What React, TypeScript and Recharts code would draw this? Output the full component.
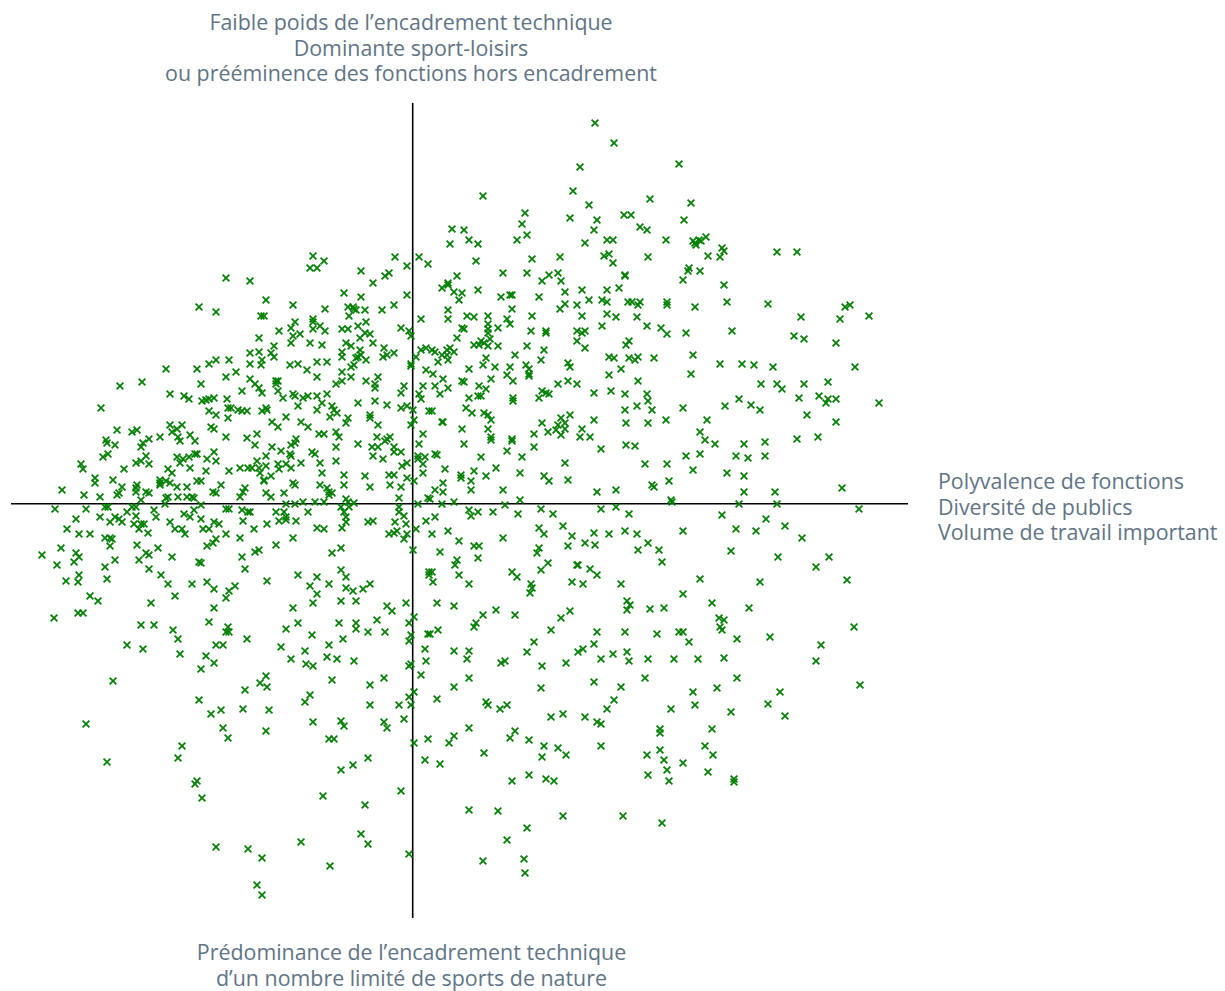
import React from "react";
import { ScatterChart, Scatter, XAxis, YAxis, ReferenceLine } from "recharts";

type P = [number, number];

const topLabel = [
  "Faible poids de l’encadrement technique",
  "Dominante sport-loisirs",
  "ou prééminence des fonctions hors encadrement",
];
const rightLabel = [
  "Polyvalence de fonctions",
  "Diversité de publics",
  "Volume de travail important",
];
const bottomLabel = [
  "Prédominance de l’encadrement technique",
  "d’un nombre limité de sports de nature",
];

const farLeftUpper: P[] = [
  [-186,226],[-213,197],[-196,192],[-246,135],[-215,135],[-203,140],[-196,144],[-183,144],[-186,127],[-211,120],
  [-292,118],[-270,122],[-242,110],[-228,108],[-223,105],[-210,103],[-206,104],[-203,105],[-198,106],[-185,105],
  [-184,96],[-203,93],[-196,89],[-184,86],[-311,96],[-295,74],[-280,72],[-275,74],[-263,65],[-252,67],
  [-242,79],[-230,79],[-235,75],[-240,72],[-234,67],[-222,69],[-201,77],[-198,75],[-186,67],[-306,64],
  [-305,61],[-297,59],[-271,57],[-269,61],[-232,63],[-217,63],[-266,48],[-304,50],[-309,47],[-331,40],
  [-329,35],[-276,41],[-271,43],[-263,40],[-235,47],[-232,41],[-229,45],[-223,47],[-217,50],[-215,50],
  [-198,52],[-205,45],[-196,43],[-222,36],[-206,33],[-183,33],[-288,35],[-244,35],[-240,31],[-317,26],
  [-317,21],[-299,24],[-290,17],[-275,19],[-252,24],[-252,21],[-252,19],[-246,23],[-242,21],[-235,17],
  [-225,17],[-215,23],[-211,23],[-191,19],[-350,14],[-328,9],[-312,7],[-295,9],[-293,11],[-276,16],
  [-276,12],[-266,12],[-263,11],[-244,7],[-246,6],[-234,7],[-225,7],[-220,7],[-218,6],[-199,12],
  [-196,11],[-271,4],[-247,0],
];

const farLeftLower: P[] = [
  [-211,-1],[-357,-5],[-326,-5],[-307,-3],[-304,-3],[-280,-3],[-276,-3],[-186,-5],[-183,-5],[-258,-6],
  [-218,-6],[-285,-8],[-228,-10],[-276,-12],[-256,-13],[-312,-13],[-336,-15],[-297,-13],[-293,-15],[-222,-13],
  [-211,-15],[-302,-18],[-290,-18],[-242,-18],[-198,-18],[-193,-20],[-278,-20],[-271,-20],[-268,-20],[-273,-25],
  [-345,-25],[-237,-25],[-230,-25],[-209,-25],[-203,-25],[-264,-29],[-227,-30],[-333,-30],[-322,-30],[-186,-30],
  [-307,-34],[-302,-34],[-300,-35],[-196,-35],[-199,-39],[-205,-42],[-302,-42],[-275,-41],[-351,-44],[-254,-44],
  [-370,-51],[-336,-49],[-333,-53],[-266,-49],[-263,-51],[-240,-53],[-338,-58],[-297,-56],[-273,-56],[-355,-61],
  [-307,-63],[-213,-58],[-211,-59],[-263,-65],[-251,-71],[-333,-71],[-346,-77],[-334,-78],[-305,-75],[-244,-80],
  [-220,-80],[-205,-78],[-198,-85],[-183,-87],[-186,-94],[-322,-92],[-314,-97],[-237,-92],[-261,-99],[-198,-104],
  [-334,-109],[-329,-109],[-358,-114],[-203,-118],[-271,-121],[-258,-121],[-239,-126],[-184,-123],[-186,-128],[-183,-128],
  [-234,-135],
];

const nearAxisUpper: P[] = [
  [-99,248],[-88,243],[-102,236],[-95,236],[-17,247],[7,247],[-5,238],[16,240],[-51,233],[-23,231],
  [-27,228],[-39,221],[-162,223],[-5,209],[-68,211],[-51,207],[-146,204],[-119,199],[-18,199],[-87,195],
  [-64,197],[-59,197],[-58,195],[-56,194],[-47,194],[-30,194],[-151,188],[-148,188],[-63,188],[9,185],
  [-99,185],[-99,182],[-117,182],[-46,182],[-92,178],[-121,176],[-99,175],[-87,173],[-133,173],[-70,175],
  [-64,175],[-54,178],[-11,176],[-3,173],[-1,168],[-47,171],[-42,170],[-112,170],[-119,168],[-153,166],
  [-52,166],[-121,161],[-102,161],[-90,159],[-66,161],[-61,158],[-39,161],[-138,158],[-28,156],[-153,152],
  [-162,151],[-141,151],[-138,147],[-70,152],[-70,147],[-52,154],[-51,149],[-54,147],[-56,146],[-25,149],
  [-29,147],[-18,151],[9,154],[14,156],[4,147],[-150,144],[-162,140],[-151,139],[-122,139],[-114,140],
  [-95,142],[-85,142],[-46,144],[-1,140],[-1,138],[-58,139],[-61,137],[-105,134],[-70,132],[14,134],
  [-176,132],[-95,127],[-61,127],[-34,127],[-162,125],[-136,123],[-134,123],[-70,123],[-46,123],[-157,120],
  [-136,120],[-76,120],[-37,120],[-37,116],[-153,116],[-8,118],[11,118],[-170,113],[-134,113],[-150,111],
  [-11,111],[7,110],[-85,110],[-119,110],[-117,108],[-104,108],[-109,106],[-95,108],[-129,106],[9,105],
  [-90,101],[-54,101],[-37,103],[-25,99],[-114,98],[-80,98],[-11,96],[-5,98],[1,94],[17,93],
  [-174,94],[-170,93],[-165,93],[-181,96],[-150,93],[-146,96],[-145,94],[-95,94],[-78,94],[-75,91],
  [-82,87],[-126,87],[-42,89],[-42,86],[-64,86],[-140,82],[-111,82],[-66,81],[2,84],[-34,79],
  [-1,79],[-134,77],[-104,77],[-155,70],[-93,70],[-88,70],[-76,72],[-73,67],[11,70],[-35,67],
  [-22,67],[-25,65],[-165,66],[-116,65],[-157,59],[-140,57],[-121,59],[-117,61],[-76,57],[-54,60],
  [-40,57],[-34,57],[-27,63],[-18,57],[-18,52],[-11,52],[7,60],[-131,53],[-146,48],[-122,50],
  [-121,48],[-100,52],[-97,50],[-39,48],[-29,45],[6,48],[13,47],[6,45],[-155,43],[-111,41],
  [-92,41],[-76,43],[-5,41],[-10,38],[11,40],[-134,40],[-126,40],[-146,38],[-172,36],[-164,36],
  [-160,36],[-153,36],[-133,35],[-121,36],[-152,31],[-90,31],[-68,29],[-47,28],[-23,29],[-18,29],
  [11,31],[-141,28],[-5,26],[-148,23],[-148,24],[2,23],[-119,21],[-117,19],[-92,19],[-68,19],
  [-22,19],[-42,17],[-11,17],[-167,16],[-85,16],[-169,12],[-83,12],[-146,11],[-128,11],[-80,11],
  [-172,7],[-141,7],[-83,9],[16,6],[-13,6],[-88,2],[-66,5],[-126,0],[-117,0],[-109,2],
  [-97,2],[-64,2],[-58,1],[6,0],
];

const nearAxisLower: P[] = [
  [-71,-3],[-63,-3],[-13,-3],[-170,-6],[-164,-8],[-162,-8],[-136,-8],[-128,-8],[-104,-8],[-68,-8],
  [-13,-8],[-8,-12],[-126,-13],[-66,-13],[-169,-17],[-133,-17],[-126,-16],[-116,-17],[-66,-18],[-44,-18],
  [-39,-17],[-17,-18],[14,-17],[-145,-20],[-6,-20],[-95,-24],[-88,-25],[-70,-24],[-158,-25],[4,-25],
  [-15,-27],[-23,-30],[-18,-29],[-5,-30],[-172,-34],[-119,-34],[-8,-35],[-136,-41],[-71,-44],[-153,-46],
  [-157,-48],[1,-46],[-80,-49],[-170,-53],[-167,-65],[-71,-66],[-114,-71],[-95,-73],[-66,-73],[17,-68],
  [17,-71],[-145,-77],[-177,-82],[-102,-82],[-83,-80],[-42,-80],[-49,-85],[-66,-84],[-59,-87],[-95,-90],
  [-99,-99],[-71,-97],[-56,-97],[-6,-99],[-119,-104],[-25,-102],[-20,-107],[2,-113],[-35,-116],[-114,-119],
  [-73,-119],[-56,-119],[-56,-125],[-3,-119],[-126,-125],[-27,-128],[-44,-128],[-100,-131],[-1,-131],[16,-130],
  [-69,-135],[-165,-135],
];

const bottomLeft: P[] = [
  [-285,-141],[-269,-145],[-232,-150],[-206,-152],[-196,-141],[-189,-141],[-198,-159],[-211,-165],[-131,-143],[-107,-147],
  [-83,-141],[-3,-137],[13,-145],[-121,-155],[-85,-153],[-75,-155],[-58,-157],[-106,-160],[-99,-162],[-3,-162],
  [-1,-160],[14,-157],[9,-171],[-299,-177],[-146,-172],[-152,-179],[-145,-183],[-80,-176],[-42,-181],[-28,-174],
  [-167,-186],[-102,-191],[-107,-198],[2,-188],[-3,-193],[-213,-196],[-42,-201],[-13,-201],[-1,-201],[-169,-205],
  [-191,-206],[-201,-210],[-143,-206],[-71,-217],[-99,-218],[-28,-218],[-8,-215],[-326,-220],[-68,-222],[-25,-224],
  [-189,-224],[-146,-227],[-184,-234],[-83,-235],[-78,-235],[2,-239],[16,-235],[-230,-242],[-234,-254],[-305,-258],
  [-44,-254],[13,-256],[-59,-261],[-71,-266],[-215,-277],[-217,-280],[-11,-287],[-210,-294],[-89,-292],[-47,-301],
  [-51,-330],[-111,-338],[-44,-340],[-196,-343],[-164,-345],[-150,-354],[-3,-350],[-82,-362],[-155,-381],[-150,-391],
];

const topRight: P[] = [
  [183,381],[202,361],[168,337],[267,340],[161,313],[71,308],[177,299],[238,305],[279,301],[113,291],
  [158,286],[185,284],[212,289],[219,289],[272,284],[110,280],[40,275],[52,274],[182,274],[228,277],
  [235,274],[115,269],[254,264],[294,267],[287,264],[281,263],
];

const centerRightUpper: P[] = [
  [38,260],[57,264],[66,260],[105,264],[173,261],[195,264],[201,264],[64,243],[120,245],[148,247],
  [192,248],[197,250],[201,241],[91,231],[115,231],[137,229],[146,231],[213,229],[213,228],[45,228],
  [149,223],[130,223],[36,221],[36,219],[30,216],[66,214],[42,212],[50,211],[153,212],[170,214],
  [195,214],[207,216],[98,209],[100,209],[89,207],[127,207],[47,204],[177,204],[190,204],[195,202],
  [216,202],[153,200],[165,199],[148,195],[100,195],[36,194],[36,185],[55,188],[62,187],[76,188],
  [120,188],[170,188],[195,190],[204,187],[95,185],[76,180],[98,180],[50,176],[52,175],[76,175],
  [86,176],[190,178],[119,173],[134,173],[134,171],[165,173],[170,171],[173,173],[76,171],[45,166],
  [78,165],[165,163],[62,159],[69,163],[67,159],[72,161],[76,158],[86,158],[115,158],[173,156],
  [214,159],[217,163],[132,154],[20,154],[23,152],[35,154],[42,152],[38,156],[30,149],[35,149],
  [103,149],[197,147],[202,146],[217,146],[26,142],[36,144],[74,146],[129,144],[156,141],[71,139],
  [114,139],[158,137],[57,135],[83,137],[98,137],[117,135],[209,135],[21,130],[117,130],[95,129],
  [197,129],[117,128],[31,125],[79,125],[50,123],[52,122],[101,123],[156,123],[23,118],[36,116],
  [67,118],[146,120],[165,120],[74,115],[130,113],[134,111],[137,110],[182,111],[199,113],[28,110],
  [66,108],[69,108],[127,106],[57,106],[101,106],[101,103],[213,110],[54,96],[20,93],[213,94],
  [60,91],[72,91],[76,89],[79,84],[158,89],[149,86],[130,81],[182,84],[214,81],[153,81],
  [146,79],[30,82],[31,82],[50,75],[76,75],[170,75],[144,74],[153,75],[136,72],[122,70],
  [149,69],[79,67],[168,67],[178,67],[100,65],
];

const farRightUpper: P[] = [
  [283,261],[284,259],[289,263],[310,256],[312,253],[236,247],[296,248],[308,247],[365,252],[385,252],
  [277,236],[276,233],[288,233],[271,224],[312,219],[220,202],[228,202],[226,199],[255,202],[255,199],
  [283,197],[315,202],[356,200],[433,197],[438,199],[457,188],[225,187],[389,187],[428,185],[235,178],
  [249,176],[255,170],[274,171],[320,173],[382,168],[392,165],[424,161],[226,147],[223,144],[242,146],
  [281,149],[308,140],[330,140],[342,139],[361,137],[443,137],[279,130],[226,123],[349,120],[365,120],
  [370,115],[392,120],[416,122],[235,110],[236,103],[327,105],[387,106],[407,108],[416,105],[414,101],
  [424,105],[467,101],[225,98],[240,94],[271,96],[313,98],[339,99],[348,94],[395,89],[236,81],
  [254,84],[295,84],[424,82],[288,72],[293,64],[303,60],[223,58],[332,60],[353,62],[385,65],
  [406,67],[274,48],[288,50],[324,48],[336,46],[353,48],[233,40],[255,40],[281,34],[315,31],
  [332,28],[257,23],[240,19],[242,17],[332,12],[363,12],[430,16],[259,4],[260,2],[327,0],
  [365,0],[447,-5],
];

const centerRightMiddle: P[] = [
  [52,60],[79,64],[100,63],[122,57],[189,55],[214,59],[23,50],[25,49],[69,47],[95,53],
  [110,47],[153,41],[33,35],[62,33],[84,36],[108,31],[49,29],[49,26],[74,28],[132,28],
  [137,23],[156,24],[31,21],[59,23],[23,14],[31,12],[59,14],[91,14],[185,12],[204,14],
  [18,5],[30,0],[42,2],[108,4],[93,-1],[57,-6],[59,-12],[66,-8],[81,-8],[129,-5],
  [189,-5],[204,-3],[106,-10],[141,-10],[217,-10],[23,-13],[151,-22],[127,-24],[36,-27],[20,-30],
  [132,-30],[160,-32],[182,-29],[197,-30],[213,-27],[47,-37],[91,-34],[173,-39],[183,-41],[156,-42],
  [62,-42],[67,-42],[127,-44],[125,-49],[28,-48],[66,-54],[45,-56],[43,-61],[136,-59],[165,-61],
  [166,-61],[178,-65],[129,-66],[20,-68],[100,-68],[47,-71],[185,-71],[105,-73],[21,-78],[57,-80],
  [119,-80],[160,-78],[171,-80],[209,-80],[120,-84],[118,-89],[25,-99],[42,-102],[215,-97],[215,-106],
  [84,-106],[71,-111],[103,-111],[158,-107],[149,-114],[64,-119],[62,-123],[26,-126],[18,-130],[139,-126],
  [185,-128],[213,-128],[122,-138],[182,-140],[42,-147],[57,-147],[115,-148],[171,-145],[166,-148],[201,-150],
  [215,-148],[55,-155],[89,-159],[93,-157],[154,-159],[189,-155],[217,-157],[130,-162],
];

const farRightLower: P[] = [
  [310,-11],[354,-15],[271,-27],[324,-25],[344,-27],[373,-22],[225,-30],[390,-34],[236,-39],[226,-46],
  [247,-46],[319,-47],[250,-58],[366,-53],[417,-53],[404,-63],[288,-75],[348,-78],[435,-76],[271,-90],
  [300,-99],[337,-104],[238,-105],[252,-104],[218,-101],[307,-114],[312,-116],[308,-123],[310,-126],[442,-123],
  [245,-130],[267,-128],[271,-128],[325,-135],[358,-133],[277,-138],[409,-141],[236,-155],[262,-155],[286,-155],
  [312,-154],[404,-157],[233,-174],[325,-174],[448,-181],[305,-184],[281,-188],[368,-188],[283,-201],[356,-200],
  [259,-205],[319,-208],[373,-212],[248,-225],[248,-229],[300,-225],[293,-242],[248,-246],[235,-251],[301,-251],
  [252,-256],[271,-259],[255,-266],[296,-268],[236,-271],[257,-277],[322,-275],[322,-278],[250,-319],
];

const bottomRight: P[] = [
  [57,-174],[42,-183],[25,-195],[129,-184],[182,-178],[209,-183],[202,-196],[74,-198],[76,-201],[88,-205],
  [95,-201],[195,-205],[139,-213],[151,-210],[173,-213],[185,-218],[189,-220],[57,-224],[103,-227],[42,-232],
  [37,-239],[98,-234],[117,-236],[132,-242],[146,-244],[189,-242],[154,-251],[72,-249],[130,-253],[28,-260],
  [117,-271],[100,-277],[134,-275],[142,-277],[57,-306],[86,-307],[151,-312],[211,-312],[115,-324],[95,-336],
  [71,-357],[112,-355],[113,-369],
];

const allPoints = [
  ...farLeftUpper, ...farLeftLower, ...nearAxisUpper, ...nearAxisLower, ...bottomLeft,
  ...topRight, ...centerRightUpper, ...farRightUpper, ...centerRightMiddle, ...farRightLower, ...bottomRight,
].map(([x, y]) => ({ x, y }));

const Cross = (props: any) => {
  const { cx, cy } = props;
  if (cx == null || cy == null) return null;
  return (
    <path
      d={`M${cx - 3.4},${cy - 3.4}L${cx + 3.4},${cy + 3.4}M${cx - 3.4},${cy + 3.4}L${cx + 3.4},${cy - 3.4}`}
      stroke="#008000"
      strokeWidth={1.7}
      fill="none"
    />
  );
};

const textStyle: React.CSSProperties = {
  position: "absolute",
  fontFamily: "'Open Sans', sans-serif",
  fontSize: 21.4,
  fontWeight: 400,
  lineHeight: "25.7px",
  color: "#5f7486",
  whiteSpace: "nowrap",
};

export default function App() {
  return (
    <div style={{ position: "absolute", left: 0, top: 0, width: 1225, height: 991, background: "#fff", overflow: "hidden" }}>
      <ScatterChart width={1225} height={991} margin={{ top: 0, right: 0, bottom: 0, left: 0 }}>
        <XAxis type="number" dataKey="x" domain={[-412, 813]} hide />
        <YAxis type="number" dataKey="y" domain={[-487, 504]} hide />
        <ReferenceLine segment={[{ x: 0.7, y: 401 }, { x: 0.7, y: -414 }]} stroke="#000" strokeWidth={1.6} />
        <ReferenceLine segment={[{ x: -401, y: 0.3 }, { x: 496, y: 0.3 }]} stroke="#000" strokeWidth={1.6} />
        <Scatter data={allPoints} shape={Cross} isAnimationActive={false} />
      </ScatterChart>
      <div style={{ ...textStyle, left: 0, width: 822, top: 9, textAlign: "center" }}>
        {topLabel.map((t) => <div key={t}>{t}</div>)}
      </div>
      <div style={{ ...textStyle, left: 938, top: 468 }}>
        {rightLabel.map((t) => <div key={t}>{t}</div>)}
      </div>
      <div style={{ ...textStyle, left: 0, width: 823, top: 939, textAlign: "center" }}>
        {bottomLabel.map((t) => <div key={t}>{t}</div>)}
      </div>
    </div>
  );
}
